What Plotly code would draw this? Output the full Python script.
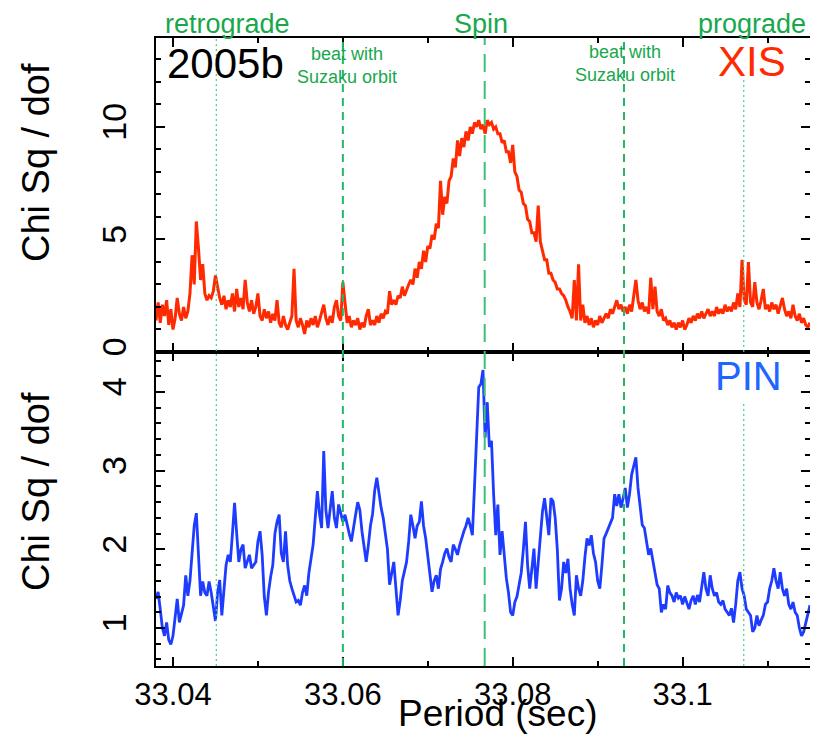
import plotly.graph_objects as go

# ---------------- data ----------------
period_start = 33.038
period_step = 0.00025

xis_chi = [
    1.4, 2.2, 1.3, 2.1, 1.6, 2.3, 1.2, 1.9, 1.0, 1.5,
    2.4, 1.7, 1.4, 2.0, 1.5, 1.8, 2.6, 4.3, 3.0, 5.8,
    4.6, 3.2, 3.9, 2.6, 2.3, 2.5, 2.4, 2.7, 3.4, 2.9,
    2.4, 2.1, 2.5, 1.9, 2.3, 2.0, 2.6, 1.8, 2.8, 2.0,
    2.4, 1.9, 3.2, 2.2, 1.8, 2.3, 1.7, 2.0, 2.6, 1.6,
    1.4, 1.9, 1.5, 1.8, 1.3, 1.7, 1.4, 2.3, 1.3, 1.1,
    1.6, 1.2, 1.0, 1.3, 1.6, 3.7, 1.4, 1.1, 1.5, 1.2,
    0.8, 1.4, 1.1, 1.5, 1.2, 1.6, 1.1, 1.4, 1.7, 2.1,
    1.5, 1.2, 1.6, 1.3, 2.0, 2.3, 1.6, 1.4, 3.1, 2.2,
    1.3, 1.6, 1.1, 1.4, 1.2, 1.5, 1.0, 1.3, 1.1, 1.6,
    1.9, 1.2, 1.4, 1.2, 1.6, 1.3, 1.7, 1.5, 1.8, 1.7,
    2.7, 2.1, 2.3, 2.1, 2.5, 2.4, 2.9, 2.5, 2.8, 3.0,
    3.2, 3.0, 3.7, 3.3, 4.0, 3.7, 4.5, 4.0, 4.7, 4.6,
    5.2, 5.0, 5.7, 5.5, 7.6, 6.1, 6.9, 6.6, 7.6, 7.8,
    8.6, 8.2, 9.4, 8.7, 9.5, 9.1, 9.8, 9.4, 10.0, 9.7,
    10.2, 10.0, 10.3, 9.9, 10.1, 9.7, 10.3, 10.1, 10.2, 9.9,
    10.0, 9.7, 9.7, 9.3, 9.4, 8.9, 8.9, 8.4, 9.2, 8.0,
    7.8, 7.2, 7.1, 6.6, 6.5, 5.9, 5.8, 5.3, 5.3, 4.9,
    6.5, 4.9, 4.5, 4.1, 4.1, 3.5, 3.5, 3.2, 3.1, 2.8,
    2.8, 2.6, 2.5, 2.3, 2.0, 1.8, 1.5, 3.2, 1.4, 3.9,
    1.4, 2.1, 1.3, 1.6, 1.2, 1.5, 1.1, 1.4, 1.2, 1.6,
    1.3, 1.5, 1.7, 1.5, 1.9, 1.7, 2.0, 2.3, 1.9, 2.1,
    1.8, 2.0, 1.7, 2.1, 1.8, 2.4, 3.2, 2.3, 1.9, 2.2,
    1.8, 2.0, 1.7, 3.3, 1.9, 2.9, 1.8, 1.6, 1.9, 1.4,
    1.5, 1.2, 1.4, 1.1, 1.3, 1.0, 1.3, 1.1, 1.4, 1.0,
    1.2, 1.5, 1.3, 1.6, 1.4, 1.7, 1.5, 1.8, 1.5, 1.7,
    1.9, 1.6, 1.8, 1.6, 2.0, 1.7, 1.9, 1.7, 2.1, 1.8,
    2.0, 1.8, 2.2, 1.9, 2.6, 2.0, 4.1, 2.3, 2.1, 4.0,
    2.2, 2.0, 3.1, 2.2, 1.9, 2.3, 2.8, 1.9, 2.1, 1.8,
    2.2, 1.9, 2.1, 1.7, 2.0, 2.4, 1.9, 1.6, 1.8, 1.5,
    2.1, 1.6, 1.4, 1.7, 1.3, 1.5, 1.2, 1.1, 1.3,
]

pin_chi = [
    1.37, 1.46, 1.24, 1.0, 0.9, 1.07, 0.85, 0.79, 0.9, 1.1,
    1.37, 1.07, 1.2, 1.29, 1.67, 1.41, 1.6, 2.01, 2.3, 2.46,
    1.84, 1.41, 1.59, 1.45, 1.41, 1.59, 1.45, 1.29, 1.09, 1.45,
    1.61, 1.16, 1.5, 1.8, 1.93, 1.84, 2.2, 2.59, 2.2, 1.84,
    2.0, 2.06, 1.76, 1.85, 1.93, 1.76, 1.8, 1.84, 2.1, 2.23,
    1.93, 1.4, 1.16, 1.46, 1.65, 1.8, 2.2, 2.35, 2.44, 1.95,
    1.84, 2.23, 1.8, 1.6, 1.5, 1.4, 1.33, 1.35, 1.29, 1.45,
    1.54, 1.41, 1.7, 1.88, 2.06, 2.4, 2.74, 2.45, 2.27, 3.25,
    2.5, 2.27, 2.5, 2.74, 2.4, 2.27, 2.57, 2.45, 2.35, 2.44,
    2.3, 2.2, 2.1, 2.3, 2.44, 2.6, 2.5, 2.23, 2.0, 1.84,
    2.05, 2.3, 2.45, 2.75, 2.91, 2.7, 2.53, 2.4, 2.23, 2.0,
    1.55, 1.7, 1.84, 1.5, 1.16, 1.35, 1.6, 1.72, 1.84, 2.1,
    2.44, 2.3, 2.14, 2.3, 2.35, 2.61, 2.3, 2.14, 1.9, 1.7,
    1.46, 1.6, 1.67, 1.5, 1.75, 1.84, 1.95, 2.01, 1.9, 1.84,
    2.06, 2.0, 1.93, 2.05, 2.15, 2.23, 2.3, 2.4, 2.3, 2.18,
    2.8, 3.5, 4.06, 4.1, 4.28, 3.42, 3.87, 3.3, 3.38, 2.7,
    2.18, 2.57, 1.93, 2.23, 1.9, 1.63, 1.45, 1.2, 1.16, 1.33,
    1.4, 1.55, 1.7, 2.0, 2.35, 1.8, 1.5, 1.75, 2.01, 1.5,
    1.84, 2.2, 2.48, 2.65, 2.4, 2.18, 2.65, 2.61, 2.4, 2.0,
    1.35, 1.5, 1.84, 1.7, 1.88, 1.5, 1.3, 1.16, 1.67, 1.5,
    1.41, 1.6, 1.9, 2.14, 2.05, 2.18, 1.95, 1.84, 1.6, 1.5,
    1.8, 2.14, 2.2, 2.27, 2.35, 2.4, 2.7, 2.55, 2.7, 2.53,
    2.65, 2.78, 2.53, 2.7, 2.95, 3.05, 3.17, 2.78, 2.5, 2.31,
    2.27, 2.1, 1.93, 2.01, 1.85, 1.67, 1.55, 1.5, 1.2, 1.3,
    1.24, 1.54, 1.45, 1.41, 1.33, 1.45, 1.38, 1.41, 1.3, 1.4,
    1.33, 1.24, 1.35, 1.41, 1.3, 1.42, 1.33, 1.5, 1.71, 1.5,
    1.41, 1.67, 1.5, 1.41, 1.45, 1.33, 1.3, 1.35, 1.24, 1.2,
    1.16, 1.25, 1.07, 1.3, 1.6, 1.71, 1.5, 1.41, 1.24, 1.2,
    1.16, 0.95, 1.0, 1.16, 1.03, 1.1, 1.16, 1.3, 1.33, 1.5,
    1.6, 1.76, 1.6, 1.5, 1.71, 1.5, 1.41, 1.5, 1.3, 1.24,
    1.33, 1.2, 1.16, 1.0, 0.9, 0.95, 1.07, 1.16, 1.29,
]

xis_periods = [round(period_start + period_step * k, 6) for k in range(len(xis_chi))]
pin_periods = [round(period_start + period_step * k, 6) for k in range(len(pin_chi))]

# reference period lines: retrograde, beat, spin, beat, prograde
line_periods = [33.0451, 33.0600, 33.0767, 33.0931, 33.1072]
line_kinds = ["dot", "beat", "spin", "beat", "dot_gap"]

x_tick_vals = [33.04, 33.06, 33.08, 33.10]
x_tick_text = ["33.04", "33.06", "33.08", "33.1"]
xis_tick_vals = [0, 5, 10]
pin_tick_vals = [1, 2, 3, 4]

x_range = [33.038, 33.115]
xis_range = [0, 13.95]
pin_range = [0.517, 4.508]

# ---------------- style ----------------
FONT = "Liberation Sans, Arial, Helvetica, sans-serif"
GREEN_TXT = "#17a84c"
XIS_COLOR = "#ff2a00"
PIN_LINE = "#1e3cff"
PIN_TXT = "#1f66ff"

# the page body adds an 8px offset; lay the figure out in page pixels
OFF = 8
W, H = 818 - OFF, 735 - OFF
PLOT_L, PLOT_R, PLOT_T, PLOT_B = 156, 810, 38, 666   # page pixels
ML = PLOT_L - OFF
MT = PLOT_T - OFF
MR = W - (PLOT_R - OFF)
MB = H - (PLOT_B - OFF)
PW, PH = PLOT_R - PLOT_L, PLOT_B - PLOT_T


def px_x(px):
    return (px - PLOT_L) / PW


def px_y(py):
    return 1 - (py - PLOT_T) / PH


fig = go.Figure()
fig.add_trace(go.Scatter(x=xis_periods, y=xis_chi, mode="lines",
                         line=dict(color=XIS_COLOR, width=3),
                         xaxis="x2", yaxis="y2", hoverinfo="skip"))
fig.add_trace(go.Scatter(x=pin_periods, y=pin_chi, mode="lines",
                         line=dict(color=PIN_LINE, width=2.8),
                         xaxis="x", yaxis="y", hoverinfo="skip"))

axis_common = dict(showline=True, linecolor="black", linewidth=2, mirror="ticks",
                   ticks="inside", tickcolor="black", tickwidth=2, ticklen=9,
                   showgrid=False, zeroline=False, automargin=False)

fig.update_layout(
    template="none",
    width=W, height=H,
    margin=dict(l=ML, r=MR, t=MT, b=MB, pad=0, autoexpand=False),
    paper_bgcolor="white", plot_bgcolor="white",
    showlegend=False,
    font=dict(family=FONT, color="black"),
    xaxis=dict(domain=[0, 1], anchor="y", range=x_range,
               tickmode="array", tickvals=x_tick_vals, ticktext=x_tick_text,
               tickfont=dict(size=31, family=FONT, color="black"),
               minor=dict(tickmode="linear", tick0=33.04, dtick=0.01, ticks="inside",
                          ticklen=5, tickwidth=2, tickcolor="black"),
               **axis_common),
    xaxis2=dict(domain=[0, 1], anchor="y2", matches="x", range=x_range,
                tickmode="array", tickvals=x_tick_vals, showticklabels=False,
                minor=dict(tickmode="linear", tick0=33.04, dtick=0.01, ticks="inside",
                           ticklen=5, tickwidth=2, tickcolor="black"),
                **axis_common),
    yaxis=dict(domain=[0, 0.5], anchor="x", range=pin_range,
               tickmode="array", tickvals=pin_tick_vals,
               tickangle=-90, tickfont=dict(size=34, family=FONT, color="black"),
               ticklabelstandoff=14,
               minor=dict(tickmode="linear", tick0=0, dtick=0.2, ticks="inside",
                          ticklen=5, tickwidth=2, tickcolor="black"),
               **axis_common),
    yaxis2=dict(domain=[0.5, 1], anchor="x2", range=xis_range,
                tickmode="array", tickvals=xis_tick_vals,
                tickangle=-90, tickfont=dict(size=34, family=FONT, color="black"),
                ticklabelstandoff=14,
                minor=dict(tickmode="linear", tick0=0, dtick=1, ticks="inside",
                           ticklen=5, tickwidth=2, tickcolor="black"),
                **axis_common),
)

# vertical reference lines
for per, kind in zip(line_periods, line_kinds):
    if kind.startswith("dot"):
        ln = dict(color="#45cc85", width=1.2, dash="2px,3px")
    elif kind == "beat":
        ln = dict(color="#22b865", width=2, dash="8px,6px")
    else:
        ln = dict(color="#3cbf77", width=2, dash="18px,9px")
    if kind == "dot_gap":
        # line interrupted under the XIS and PIN labels
        spans = [(px_y(666), px_y(402)), (px_y(352), px_y(78))]
    else:
        spans = [(0, 1)]
    for y0, y1 in spans:
        fig.add_shape(type="line", xref="x", yref="paper", x0=per, x1=per, y0=y0, y1=y1,
                      line=ln, layer="above")

ann = []


def add_text(text, px, py, size, color, xanchor="center", angle=0, yanchor="middle"):
    ann.append(dict(text=text, xref="paper", yref="paper", x=px_x(px), y=px_y(py),
                    xanchor=xanchor, yanchor=yanchor, showarrow=False, textangle=angle,
                    font=dict(family=FONT, size=size, color=color), borderpad=0))


add_text("retrograde", 227, 24, 27, GREEN_TXT)
add_text("Spin", 481, 24, 27, GREEN_TXT)
add_text("prograde", 752, 24, 27, GREEN_TXT)
add_text("2005b", 166, 64, 42, "black", xanchor="left")
add_text("beat with<br>Suzaku orbit", 347, 65, 18, GREEN_TXT)
add_text("beat with<br>Suzaku orbit", 625, 63, 18, GREEN_TXT)
add_text("XIS", 752, 61, 42, XIS_COLOR)
add_text("PIN", 748, 376, 40, PIN_TXT)
add_text("Chi Sq / dof", 36, 163, 38, "black", angle=-90)
add_text("Chi Sq / dof", 36, 492, 38, "black", angle=-90)
add_text("Period (sec)", 497, 735, 37, "black", yanchor="bottom")

fig.update_layout(annotations=ann)

fig.write_html("out.html")
